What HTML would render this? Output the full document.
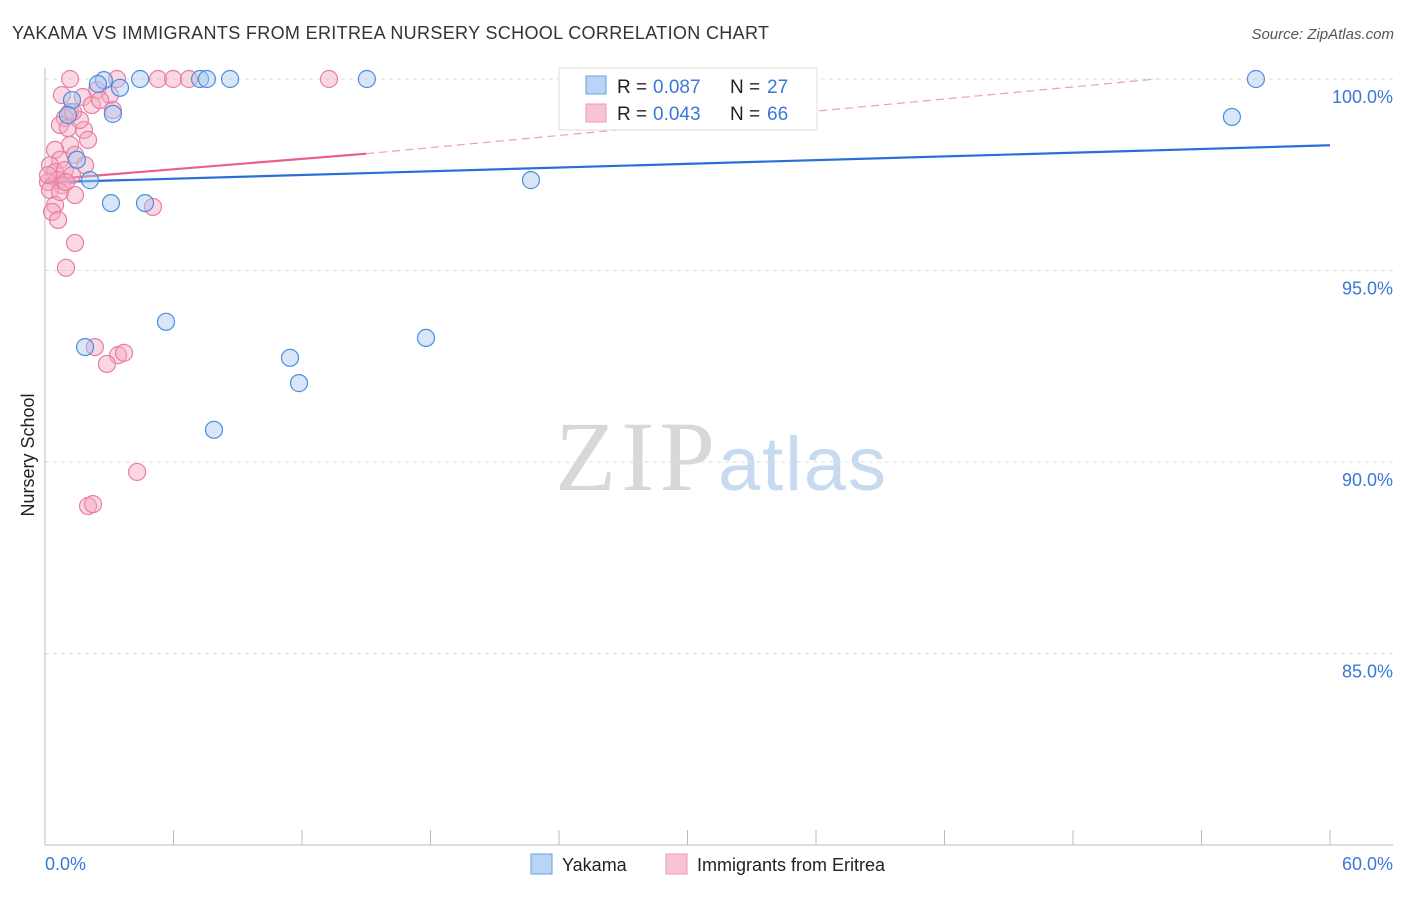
<!DOCTYPE html>
<html><head><meta charset="utf-8"><style>
body{margin:0;background:#fff;font-family:"Liberation Sans",sans-serif;}
</style></head><body>
<svg width="1406" height="892" xmlns="http://www.w3.org/2000/svg" id="chart">
<text x="12" y="39" font-size="18" fill="#333" textLength="757">YAKAMA VS IMMIGRANTS FROM ERITREA NURSERY SCHOOL CORRELATION CHART</text>
<text x="1394" y="39" font-size="15" fill="#555" font-style="italic" text-anchor="end">Source: ZipAtlas.com</text>
<g>
<text x="555" y="490" font-size="100" fill="#d8d8d8" font-family="Liberation Serif,serif" textLength="160">ZIP</text>
<text x="718" y="490" font-size="76" fill="#c8daf0" textLength="168">atlas</text>
</g>
<text transform="translate(34,455) rotate(-90)" font-size="18" fill="#222" text-anchor="middle">Nursery School</text>
<g id="grid"></g><g id="axes"></g><g id="lines"></g><g id="pts"></g>
<g>
<rect x="559" y="68" width="258" height="62" fill="#fff" stroke="#ddd"/>
<rect x="586" y="76" width="20" height="18" fill="#b8d4f6" stroke="#6a9ee0"/>
<rect x="586" y="104" width="20" height="18" fill="#f8c4d4" stroke="#eb98b2"/>
<text y="93" font-size="19" fill="#222"><tspan x="617">R =</tspan><tspan x="653" fill="#3a78d8">0.087</tspan><tspan x="730">N =</tspan><tspan x="767" fill="#3a78d8">27</tspan></text>
<text y="120" font-size="19" fill="#222"><tspan x="617">R =</tspan><tspan x="653" fill="#3a78d8">0.043</tspan><tspan x="730">N =</tspan><tspan x="767" fill="#3a78d8">66</tspan></text>
</g>
<g>
<rect x="531" y="854" width="21" height="20" fill="#b8d4f6" stroke="#6a9ee0"/>
<text x="562" y="871" font-size="18" fill="#222">Yakama</text>
<rect x="666" y="854" width="21" height="20" fill="#f8c4d4" stroke="#eb98b2"/>
<text x="697" y="871" font-size="18" fill="#222">Immigrants from Eritrea</text>
</g>
</svg>
<script>
const yTicks=[100,95,90,85];
const yTickLabels=["100.0%","95.0%","90.0%","85.0%"];
const xTickLabels=["0.0%","60.0%"];
const blueX=[2.75,2.47,4.44,7.24,7.56,8.64,15.03,56.54,3.50,1.26,3.17,1.07,1.49,2.10,3.08,4.67,22.69,55.42,5.65,1.87,11.44,17.79,11.86,7.89];
const blueY=[99.97,99.87,100,100,100,100,100,100,99.77,99.45,99.09,99.06,97.89,97.36,96.76,96.76,97.36,99.01,93.66,93.00,92.72,93.24,92.06,90.84];
const pinkX=[1.17,3.36,5.28,5.98,6.72,13.26,2.43,3.03,1.77,3.17,1.17,0.93,0.70,2.19,1.07,1.82,2.01,1.17,1.40,0.47,0.70,0.23,0.47,0.93,1.87,1.26,0.61,0.14,0.79,0.23,1.40,0.47,0.33,0.61,1.40,0.98,5.04,2.33,3.41,3.69,2.89,4.30,2.01,2.24,0.14,0.70,0.98,1.63,2.57,0.79,1.31];
const pinkY=[100,100,100,100,100,100,99.71,99.58,99.53,99.19,99.14,98.98,98.80,99.32,98.72,98.67,98.41,98.28,98.02,98.15,97.89,97.75,97.57,97.62,97.75,97.49,97.36,97.31,97.23,97.10,96.97,96.71,96.53,96.32,95.72,95.07,96.66,93.00,92.79,92.85,92.56,89.74,88.85,88.90,97.49,97.05,97.31,98.93,99.45,99.58,99.14];
const blueTrend=[0,97.30,60,98.27];
const pinkTrend=[0,97.37,15,98.05,51.9,100];
const NS="http://www.w3.org/2000/svg";
const xs=v=>45+v/60*1285;
const ys=v=>79+(100-v)*38.3;
function mk(tag,attrs,parent){const e=document.createElementNS(NS,tag);for(const k in attrs)e.setAttribute(k,attrs[k]);document.getElementById(parent).appendChild(e);return e;}
yTicks.forEach((t,i)=>{
 const l=mk('line',{x1:45,x2:1393,y1:ys(t),y2:ys(t),stroke:'#ddd','stroke-dasharray':'4,4'},'grid');
 
 
 const tx=mk('text',{x:1393,y:ys(t)+24,'font-size':18,fill:'#3a78d8','text-anchor':'end'},'grid');
 tx.textContent=yTickLabels[i];
 
 
});
const ax=mk('line',{x1:45,x2:45,y1:68,y2:845,stroke:'#bbb'},'axes');


const bx=mk('line',{x1:45,x2:1393,y1:845,y2:845,stroke:'#bbb'},'axes');


for(let i=0;i<=10;i++){const t=mk('line',{x1:xs(i*6),x2:xs(i*6),y1:830,y2:845,stroke:'#bbb'},'axes');
 
 }
[[0,'start',45],[60,'end',1393]].forEach((d,i)=>{const t=mk('text',{x:d[2],y:870,'font-size':18,fill:'#3a78d8','text-anchor':d[1]},'axes');t.textContent=xTickLabels[i];
 
 });
function dots(X,Y,fill,stroke,name){X.forEach((x,i)=>{const c=mk('circle',{cx:xs(x),cy:ys(Y[i]),r:8.5,fill:fill,'fill-opacity':0.45,stroke:stroke,'stroke-width':1.2},'pts');
 
 });}
dots(pinkX,pinkY,'#f4a8c0','#e87fa0','point-eritrea');
dots(blueX,blueY,'#a8c8f0','#4a8ee0','point-yakama');
const bl=mk('line',{x1:xs(blueTrend[0]),y1:ys(blueTrend[1]),x2:xs(blueTrend[2]),y2:ys(blueTrend[3]),stroke:'#2a6fd6','stroke-width':2.2},'lines');


const pl=mk('line',{x1:xs(pinkTrend[0]),y1:ys(pinkTrend[1]),x2:xs(pinkTrend[2]),y2:ys(pinkTrend[3]),stroke:'#e8608a','stroke-width':2.2},'lines');


const pd=mk('line',{x1:xs(pinkTrend[2]),y1:ys(pinkTrend[3]),x2:xs(pinkTrend[4]),y2:ys(pinkTrend[5]),stroke:'#e8a0b8','stroke-width':1.2,'stroke-dasharray':'8,5'},'lines');


</script>
</body></html>
